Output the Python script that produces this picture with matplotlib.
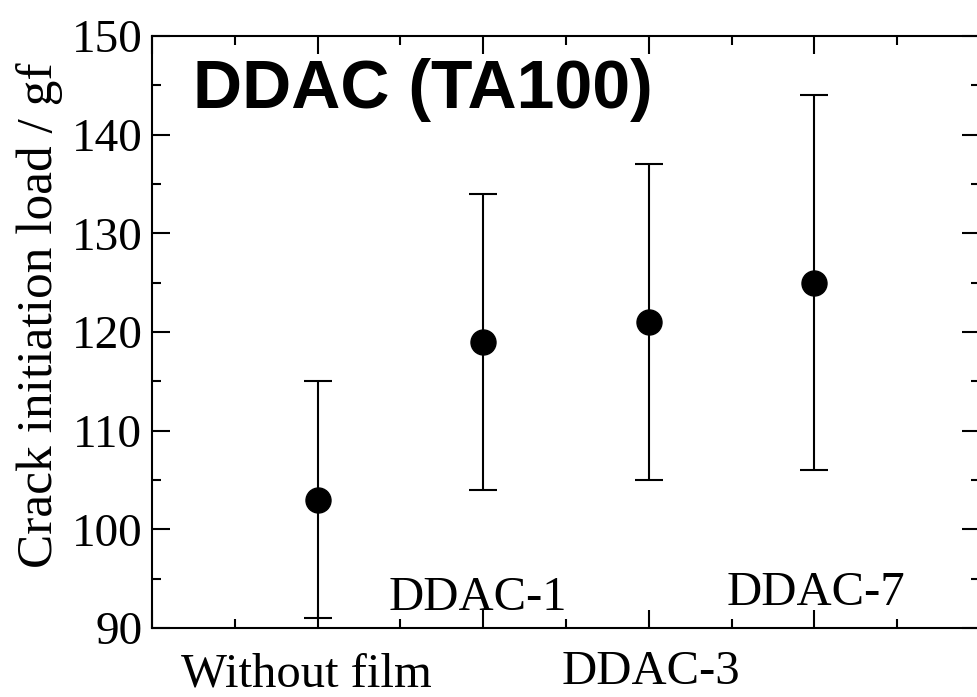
import matplotlib
matplotlib.use("Agg")
import matplotlib.pyplot as plt
from matplotlib.ticker import MultipleLocator
import matplotlib.transforms as mtransforms

categories = ["Without film", "DDAC-1", "DDAC-3", "DDAC-7"]
means = [103, 119, 121, 125]
upper = [115, 134, 137, 144]
lower = [91, 104, 105, 106]
yticks = [90, 100, 110, 120, 130, 140, 150]
title = "DDAC (TA100)"
ylabel = "Crack initiation load / gf"

serif = ["Liberation Serif", "DejaVu Serif"]
W, H = 978, 697
fig = plt.figure(figsize=(W / 100, H / 100), dpi=100)
ax = fig.add_axes([152 / W, 1 - 628 / H, 828 / W, 592 / H])

x = list(range(1, len(categories) + 1))
yerr = [[m - l for m, l in zip(means, lower)], [u - m for m, u in zip(means, upper)]]
ax.errorbar(x, means, yerr=yerr, fmt="o", color="black", ms=18, lw=1.5,
            capsize=10, capthick=1.5, zorder=3)

ax.set_xlim(0, 5)
ax.set_ylim(yticks[0], yticks[-1])
ax.set_yticks(yticks)
ax.yaxis.set_minor_locator(MultipleLocator(5))
ax.set_xticks(range(0, 6))
ax.xaxis.set_minor_locator(MultipleLocator(0.5))
ax.set_xticklabels([])

for s in ax.spines.values():
    s.set_linewidth(1.5)
ax.tick_params(which="both", direction="in", top=True, right=True, width=1.5)
ax.tick_params(which="major", length=13, pad=7)
ax.tick_params(which="minor", length=6.5)
for lab in ax.get_yticklabels():
    lab.set_fontfamily(serif)
    lab.set_fontsize(34)

# staggered category labels
trans = mtransforms.blended_transform_factory(ax.transData, ax.transAxes)
label_y = [-0.098, 0.031, -0.095, 0.039]
label_dx = [-0.07, -0.035, 0.015, 0.01]
for xi, name, ly, dx in zip(x, categories, label_y, label_dx):
    ax.text(xi + dx, ly, name, transform=trans, ha="center", va="baseline",
            fontsize=35, family=serif, clip_on=False)

fig.text(40 / W, 1 - 315 / H, ylabel, rotation=90, ha="center", va="center",
         fontsize=37, family=serif)

ax.text((193 - 152) / 828, (628 - 108) / 592, title, transform=ax.transAxes,
        ha="left", va="baseline", fontsize=49, fontweight="bold",
        family=["Liberation Sans", "DejaVu Sans"])

fig.savefig("out.png", dpi=100)
